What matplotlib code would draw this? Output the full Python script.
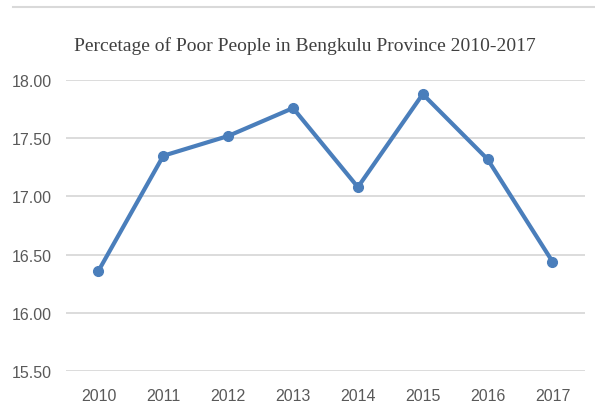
import matplotlib
matplotlib.use("Agg")
import numpy as np
from matplotlib import pyplot as plt
from matplotlib.lines import Line2D

# data
years = ["2010", "2011", "2012", "2013", "2014", "2015", "2016", "2017"]
poor_pct = [16.36, 17.35, 17.52, 17.76, 17.08, 17.88, 17.32, 16.44]
y_ticks = [15.50, 16.00, 16.50, 17.00, 17.50, 18.00]

title = "Percetage of Poor People in Bengkulu Province 2010-2017"

line_color = "#4a7ebb"
grid_color = "#d9d9d9"
text_color = "#595959"
tick_font = ["Liberation Sans Narrow", "Liberation Sans", "DejaVu Sans"]

fig = plt.figure(figsize=(5.95, 4.10), dpi=100)
ax = fig.add_axes([0.111, 0.093, 0.872, 0.709])

x = np.arange(len(years))
ax.plot(x, poor_pct, color=line_color, linewidth=3.0, marker="o",
        markersize=7, solid_joinstyle="round", zorder=3)

ax.set_xlim(-0.5, len(years) - 0.5)
ax.set_ylim(y_ticks[0], y_ticks[-1])
ax.set_yticks(y_ticks)
ax.set_yticklabels(["%.2f" % v for v in y_ticks])
ax.set_xticks(x)
ax.set_xticklabels(years)

ax.grid(axis="y", color=grid_color, linewidth=1.3)
ax.set_axisbelow(True)
for s in ax.spines.values():
    s.set_visible(False)

ax.tick_params(axis="both", length=0, colors=text_color, labelsize=11.5)
ax.tick_params(axis="y", pad=10)
ax.tick_params(axis="x", pad=12)
for lab in ax.get_xticklabels() + ax.get_yticklabels():
    lab.set_family(tick_font)

fig.text(0.513, 0.888, title, ha="center", va="center", fontsize=14,
         family=["Liberation Serif", "DejaVu Serif"], color="#404040")

# thin chart-area border along the top edge
fig.add_artist(Line2D([0.022, 1.0], [0.980, 0.980], color=grid_color,
                      linewidth=1.5, transform=fig.transFigure))

plt.savefig("out.png", dpi=100)
